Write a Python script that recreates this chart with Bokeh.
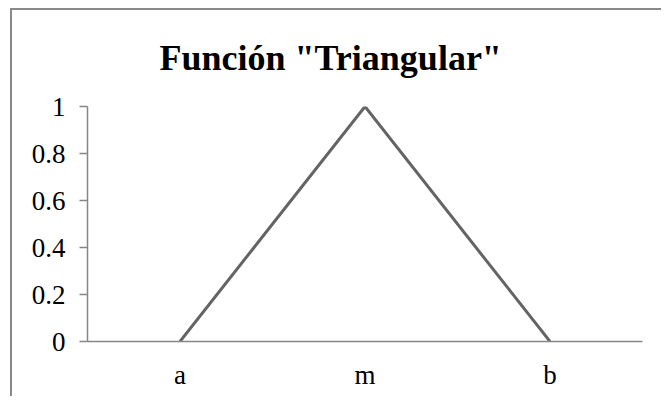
from bokeh.plotting import figure
from bokeh.models import FactorRange, Range1d, FixedTicker
from bokeh.embed import file_html
from bokeh.resources import INLINE

# Data
categories = ["a", "m", "b"]
membership = [0, 1, 0]
y_ticks = [0, 0.2, 0.4, 0.6, 0.8, 1]
y_tick_labels = ["0", "0.2", "0.4", "0.6", "0.8", "1"]
title_text = 'Función "Triangular"'

FONT = "Liberation Serif"
AXIS_GRAY = "#868686"

p = figure(
    x_range=FactorRange(factors=categories, range_padding=0),
    y_range=Range1d(0, 1),
    width=651, height=388,
    output_backend="svg", toolbar_location=None,
    min_border_left=75, min_border_right=21,
    min_border_top=95, min_border_bottom=57,
    title=title_text,
)
p.styles = {
    "border-left": "2px solid #898989",
    "border-top": "2px solid #898989",
    "margin-left": "10px",
    "margin-top": "8px",
}

p.line(x=categories, y=membership, line_color="#646464", line_width=3,
       line_join="miter")

p.title.align = "left"
p.title.vertical_align = "top"
p.title.offset = 72
p.title.standoff = 54
p.title.text_font = FONT
p.title.text_font_size = "36px"
p.title.text_font_style = "bold"
p.title.text_color = "black"

p.xgrid.visible = False
p.ygrid.visible = False
p.outline_line_color = None

ya = p.yaxis[0]
ya.ticker = FixedTicker(ticks=y_ticks)
ya.major_label_overrides = dict(zip(y_ticks, y_tick_labels))
ya.minor_tick_line_color = None
ya.major_tick_out = 8
ya.major_tick_in = 0
ya.axis_line_color = AXIS_GRAY
ya.axis_line_width = 1.5
ya.major_tick_line_color = AXIS_GRAY
ya.major_tick_line_width = 1.5
ya.major_label_text_font = FONT
ya.major_label_text_font_size = "27px"
ya.major_label_text_color = "black"
ya.major_label_standoff = 14

xa = p.xaxis[0]
xa.major_tick_line_color = None
xa.minor_tick_line_color = None
xa.axis_line_color = AXIS_GRAY
xa.axis_line_width = 1.5
xa.major_label_text_font = FONT
xa.major_label_text_font_size = "27px"
xa.major_label_text_color = "black"
xa.major_label_standoff = 12

open("out.html", "w").write(file_html(p, INLINE))
